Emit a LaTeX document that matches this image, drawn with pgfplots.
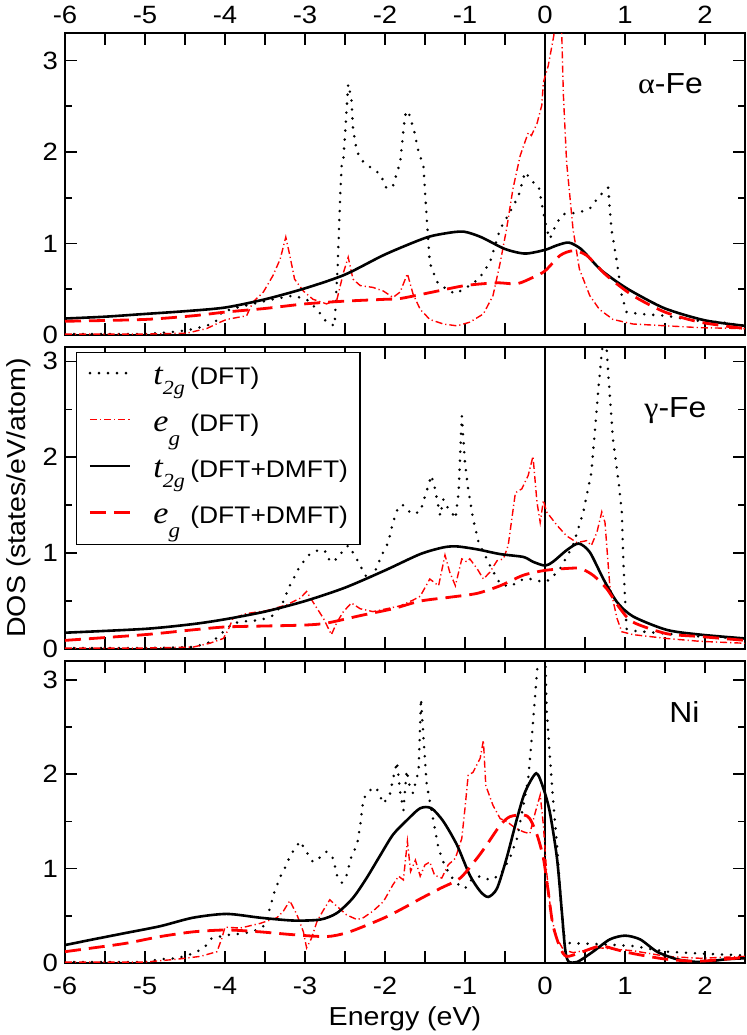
\documentclass[border=0pt]{standalone}
\usepackage{pgfplots}
\pgfplotsset{compat=1.18}
\usepackage{fontspec}
\setmainfont{Liberation Sans}[FakeStretch=1.1]
\newfontfamily\serifit{Liberation Serif}[FakeStretch=1.1]
\newcommand\ticksize{\fontsize{12.5}{14}\selectfont}
\newcommand\legsize{\fontsize{12}{14}\selectfont}
\newcommand\labsize{\fontsize{13}{15}\selectfont}
\newcommand\pansize{\fontsize{14.5}{16}\selectfont}
\newcommand\tsym{{\serifit\itshape\fontsize{15.5}{15.5}\selectfont t}\raisebox{-5pt}{\serifit\itshape\fontsize{10}{10}\selectfont 2g}}
\newcommand\esym{{\serifit\itshape\fontsize{15.5}{15.5}\selectfont e}\raisebox{-7pt}{\serifit\itshape\fontsize{10.5}{10.5}\selectfont g}}
\pgfplotsset{
  panel/.style={
    scale only axis, width=340pt, height=151pt,
    xmin=-6, xmax=2.5, ymin=0,
    xtick={-6,-5,...,2},
    extra x ticks={-5.5,-4.5,...,2.5}, extra x tick labels={},
    ytick={0,1,2,3}, minor ytick={0.5,1.5,2.5},
    major tick length=6pt, minor tick length=3.5pt,
    tick style={line width=0.8pt, black},
    axis line style={line width=0.8pt},
    xtick pos=both, ytick pos=both,
    no markers,
    tick label style={font=\ticksize},
    /pgf/number format/assume math mode=true,
    legend image code/.code={\draw[##1] (0pt,3pt) -- (20pt,3pt);},
  },
  tdft/.style={black, line width=1.4pt, line cap=round, dash pattern=on 0pt off 4.5pt},
  edft/.style={red, line width=0.7pt, dash pattern=on 3.5pt off 1.5pt on 0.6pt off 1.5pt},
  tdmft/.style={black, line width=1.3pt, smooth, tension=0.45},
  edmft/.style={red, line width=1.4pt, dash pattern=on 8pt off 4pt, smooth, tension=0.45},
  zline/.style={black, line width=0.6pt, forget plot},
}
\begin{document}
\begin{tikzpicture}
% ---------------- alpha-Fe
\begin{axis}[panel, at={(0,0)}, anchor=north west, ymax=3.3,
  xticklabel pos=upper, xtick pos=both,
  xticklabel style={yshift=1pt}]
\addplot[zline] coordinates {(0,0) (0,3.5)};
\addplot[tdft] coordinates {(-6,0.01) (-5.5,0.01) (-5.0,0.01) (-4.69,0.03) (-4.48,0.05) (-4.23,0.10) (-4.10,0.16) (-4.04,0.25) (-3.85,0.30) (-3.65,0.34) (-3.40,0.39) (-3.15,0.43) (-2.98,0.39) (-2.85,0.28) (-2.73,0.14) (-2.63,0.10) (-2.59,0.79) (-2.56,1.52) (-2.54,1.89) (-2.52,1.92) (-2.49,2.32) (-2.46,2.74) (-2.42,2.58) (-2.40,2.25) (-2.35,2.00) (-2.27,1.89) (-2.15,1.81) (-2.06,1.76) (-1.98,1.60) (-1.90,1.63) (-1.81,1.89) (-1.75,2.40) (-1.71,2.45) (-1.63,2.21) (-1.58,2.00) (-1.52,1.85) (-1.48,1.30) (-1.44,0.79) (-1.35,0.58) (-1.23,0.50) (-1.12,0.45) (-0.98,0.52) (-0.83,0.61) (-0.69,0.79) (-0.56,1.16) (-0.44,1.34) (-0.33,1.52) (-0.25,1.78) (-0.15,1.67) (-0.08,1.63) (-0.02,1.34) (0.02,1.16) (0.06,1.05) (0.15,1.23) (0.23,1.32) (0.43,1.34) (0.56,1.38) (0.68,1.52) (0.79,1.61) (0.83,1.16) (0.90,0.79) (0.96,0.43) (1.02,0.25) (1.19,0.23) (1.52,0.21) (1.85,0.16) (2.19,0.14) (2.5,0.10)};
\addplot[edft] coordinates {(-6,0.01) (-5,0.01) (-4.48,0.02) (-4.23,0.07) (-4.06,0.14) (-3.98,0.17) (-3.73,0.21) (-3.65,0.36) (-3.52,0.47) (-3.40,0.65) (-3.31,0.83) (-3.24,1.07) (-3.19,0.87) (-3.13,0.61) (-3.02,0.48) (-2.90,0.39) (-2.73,0.34) (-2.60,0.39) (-2.52,0.68) (-2.46,0.85) (-2.40,0.61) (-2.31,0.54) (-2.15,0.52) (-2.02,0.48) (-1.90,0.41) (-1.81,0.47) (-1.72,0.67) (-1.65,0.45) (-1.56,0.28) (-1.44,0.17) (-1.27,0.12) (-1.10,0.10) (-0.94,0.14) (-0.77,0.23) (-0.65,0.43) (-0.56,0.79) (-0.48,1.16) (-0.40,1.60) (-0.31,1.96) (-0.21,2.21) (-0.17,2.18) (-0.10,2.31) (-0.04,2.51) (-0.02,2.76) (0.04,2.94) (0.11,3.27) (0.15,3.6) (0.20,3.6) (0.23,2.62) (0.27,1.89) (0.35,1.16) (0.43,0.72) (0.56,0.43) (0.68,0.28) (0.85,0.17) (1.10,0.12) (1.52,0.10) (1.94,0.08) (2.5,0.07)};
\addplot[tdmft] coordinates {(-6,0.18) (-5.5,0.20) (-5.0,0.23) (-4.5,0.26) (-4.0,0.30) (-3.5,0.39) (-3.0,0.51) (-2.5,0.66) (-2.0,0.88) (-1.5,1.06) (-1.25,1.11) (-1.02,1.13) (-0.8,1.07) (-0.5,0.94) (-0.25,0.89) (0,0.93) (0.15,0.98) (0.3,1.01) (0.45,0.94) (0.6,0.80) (0.7,0.71) (0.9,0.58) (1.1,0.47) (1.5,0.29) (2.0,0.16) (2.5,0.10)};
\addplot[edmft] coordinates {(-6,0.15) (-5,0.17) (-4.4,0.21) (-4.0,0.25) (-3.5,0.29) (-3.0,0.34) (-2.5,0.37) (-2.0,0.39) (-1.8,0.40) (-1.4,0.47) (-1.0,0.54) (-0.6,0.57) (-0.35,0.56) (-0.15,0.63) (0,0.70) (0.19,0.87) (0.35,0.92) (0.52,0.87) (0.77,0.65) (1.1,0.43) (1.5,0.25) (1.94,0.14) (2.5,0.07)};
\node[anchor=base, font=\pansize] at (axis description cs:0.8904,0.7987) {{\serifit α}-Fe};
\end{axis}
% ---------------- gamma-Fe
\begin{axis}[panel, at={(0,-157pt)}, anchor=north west, ymax=3.15,
  xticklabels={},
  ylabel={DOS (states/eV/atom)},
  ylabel style={at={(axis description cs:-0.068,0.5)}, anchor=center, font=\labsize},
  legend cell align=left,
  legend style={at={(axis description cs:0,1)}, anchor=north west, xshift=5.5pt, yshift=-2.5pt,
    draw=black, line width=0.6pt, font=\legsize, inner xsep=6pt, inner ysep=6.5pt,
    row sep=9.7pt, column sep=11pt,
    nodes={inner sep=0pt, text height=9.5pt, text depth=4pt}}]
\addplot[zline] coordinates {(0,0) (0,3.5)};
\addplot[tdft] coordinates {(-6,0.01) (-5,0.01) (-4.4,0.02) (-4.31,0.04) (-4.15,0.08) (-4.02,0.18) (-3.9,0.27) (-3.73,0.29) (-3.56,0.30) (-3.4,0.35) (-3.29,0.46) (-3.19,0.66) (-3.06,0.87) (-2.94,0.99) (-2.81,1.04) (-2.73,1.01) (-2.69,0.91) (-2.6,0.94) (-2.52,1.03) (-2.46,1.08) (-2.38,0.98) (-2.29,0.84) (-2.21,0.72) (-2.13,0.80) (-2.04,0.98) (-1.96,1.11) (-1.9,1.32) (-1.83,1.49) (-1.77,1.50) (-1.67,1.41) (-1.56,1.43) (-1.46,1.70) (-1.42,1.81) (-1.38,1.69) (-1.31,1.39) (-1.27,1.56) (-1.23,1.49) (-1.17,1.43) (-1.12,1.36) (-1.08,1.63) (-1.04,2.43) (-1.0,1.94) (-0.96,1.67) (-0.9,1.36) (-0.83,1.11) (-0.75,0.98) (-0.67,0.84) (-0.56,0.68) (-0.44,0.65) (-0.27,0.73) (-0.15,0.73) (-0.04,0.70) (0.06,0.72) (0.19,0.84) (0.35,1.08) (0.48,1.43) (0.58,1.84) (0.67,2.74) (0.71,3.09) (0.75,3.4) (0.79,2.88) (0.85,2.19) (0.92,1.74) (0.96,1.43) (0.98,0.91) (1.0,0.53) (1.02,0.21) (1.1,0.19) (1.52,0.16) (1.94,0.13) (2.5,0.11)};
\addlegendentry{\makebox[18.5pt][l]{\tsym}(DFT)}
\addplot[edft] coordinates {(-6,0.01) (-5,0.01) (-4.4,0.02) (-4.19,0.06) (-4.02,0.11) (-3.96,0.20) (-3.9,0.32) (-3.73,0.37) (-3.48,0.40) (-3.23,0.46) (-3.06,0.53) (-2.98,0.60) (-2.9,0.49) (-2.77,0.32) (-2.67,0.15) (-2.6,0.28) (-2.52,0.39) (-2.42,0.48) (-2.31,0.42) (-2.15,0.39) (-1.98,0.42) (-1.81,0.45) (-1.65,0.51) (-1.56,0.55) (-1.44,0.73) (-1.33,0.66) (-1.25,0.98) (-1.19,0.80) (-1.12,0.66) (-1.04,0.94) (-0.98,0.91) (-0.94,0.94) (-0.85,0.84) (-0.77,0.73) (-0.69,0.80) (-0.6,0.92) (-0.52,0.94) (-0.46,1.08) (-0.37,1.63) (-0.29,1.67) (-0.21,1.81) (-0.15,2.01) (-0.1,1.53) (-0.06,1.32) (-0.02,1.55) (0.02,1.43) (0.15,1.29) (0.27,1.18) (0.4,1.11) (0.52,1.13) (0.58,1.08) (0.65,1.22) (0.71,1.43) (0.75,1.32) (0.81,0.66) (0.9,0.32) (0.96,0.18) (1.1,0.15) (1.52,0.11) (1.94,0.08) (2.5,0.06)};
\addlegendentry{\makebox[18.5pt][l]{\esym}(DFT)}
\addplot[tdmft] coordinates {(-6,0.17) (-5,0.21) (-4.4,0.26) (-4.0,0.31) (-3.5,0.39) (-3.0,0.50) (-2.5,0.64) (-2.0,0.82) (-1.56,0.99) (-1.27,1.06) (-1.1,1.07) (-0.85,1.04) (-0.56,0.99) (-0.27,0.96) (-0.15,0.91) (0,0.87) (0.1,0.91) (0.27,1.03) (0.42,1.10) (0.56,1.01) (0.73,0.73) (0.9,0.49) (1.1,0.34) (1.52,0.20) (1.94,0.15) (2.5,0.11)};
\addlegendentry{\makebox[18.5pt][l]{\tsym}(DFT+DMFT)}
\addplot[edmft] coordinates {(-6,0.09) (-5,0.15) (-4.4,0.20) (-4.0,0.23) (-3.5,0.24) (-3.0,0.25) (-2.73,0.27) (-2.3,0.35) (-1.9,0.42) (-1.56,0.50) (-1.19,0.54) (-0.85,0.58) (-0.56,0.66) (-0.27,0.77) (0,0.82) (0.27,0.84) (0.44,0.84) (0.6,0.77) (0.77,0.63) (0.94,0.42) (1.1,0.28) (1.52,0.16) (1.94,0.13) (2.5,0.09)};
\addlegendentry{\makebox[18.5pt][l]{\esym}(DFT+DMFT)}
\node[anchor=base, font=\pansize] at (axis description cs:0.8977,0.768) {{\serifit γ}-Fe};
\end{axis}
% ---------------- Ni
\begin{axis}[panel, at={(0,-314pt)}, anchor=north west, ymax=3.2,
  xticklabel style={yshift=-3.5pt},
  xlabel={Energy (eV)},
  xlabel style={at={(axis description cs:0.5,-0.2053)}, anchor=base, font=\labsize}]
\addplot[zline] coordinates {(0,0) (0,3.5)};
\addplot[tdft] coordinates {(-6,0.01) (-5,0.01) (-4.81,0.04) (-4.6,0.05) (-4.44,0.09) (-4.33,0.13) (-4.23,0.19) (-4.17,0.26) (-4.06,0.28) (-3.94,0.30) (-3.81,0.31) (-3.73,0.32) (-3.6,0.35) (-3.5,0.40) (-3.44,0.58) (-3.38,0.76) (-3.29,0.95) (-3.23,1.04) (-3.19,1.13) (-3.13,1.21) (-3.06,1.29) (-3.0,1.20) (-2.9,1.07) (-2.81,1.12) (-2.73,1.18) (-2.65,1.11) (-2.6,0.93) (-2.54,0.85) (-2.48,0.93) (-2.42,1.13) (-2.35,1.25) (-2.31,1.46) (-2.27,1.74) (-2.19,1.83) (-2.11,1.86) (-2.02,1.69) (-1.94,1.78) (-1.9,1.95) (-1.85,2.13) (-1.81,1.81) (-1.77,1.62) (-1.73,2.04) (-1.69,1.87) (-1.65,1.80) (-1.58,2.04) (-1.55,2.80) (-1.52,2.40) (-1.48,1.90) (-1.4,1.53) (-1.33,1.21) (-1.27,1.07) (-1.19,0.93) (-1.08,0.83) (-1.0,0.79) (-0.92,0.88) (-0.81,0.92) (-0.69,0.88) (-0.56,0.93) (-0.44,1.11) (-0.35,1.32) (-0.27,1.67) (-0.21,1.95) (-0.17,2.34) (-0.12,2.87) (-0.08,3.3) (-0.04,3.6) (0.0,3.4) (0.02,2.69) (0.06,2.20) (0.1,1.74) (0.15,1.25) (0.19,0.76) (0.23,0.30) (0.31,0.21) (0.69,0.20) (1.1,0.18) (1.52,0.12) (1.94,0.10) (2.5,0.08)};
\addplot[edft] coordinates {(-6,0.01) (-5,0.01) (-4.6,0.04) (-4.31,0.07) (-4.1,0.12) (-4.04,0.26) (-4.0,0.38) (-3.81,0.37) (-3.56,0.42) (-3.35,0.48) (-3.27,0.55) (-3.19,0.66) (-3.1,0.51) (-3.02,0.33) (-2.98,0.16) (-2.92,0.26) (-2.85,0.44) (-2.77,0.56) (-2.69,0.67) (-2.6,0.60) (-2.48,0.51) (-2.35,0.46) (-2.27,0.48) (-2.15,0.55) (-2.02,0.65) (-1.9,0.83) (-1.83,0.92) (-1.77,0.88) (-1.72,1.29) (-1.68,0.97) (-1.62,1.09) (-1.56,0.92) (-1.5,1.04) (-1.44,1.07) (-1.38,0.93) (-1.29,0.90) (-1.21,1.04) (-1.12,1.11) (-1.04,1.32) (-1.0,1.64) (-0.96,1.99) (-0.9,2.02) (-0.81,2.17) (-0.77,2.36) (-0.74,1.88) (-0.71,1.81) (-0.65,1.67) (-0.56,1.53) (-0.48,1.50) (-0.37,1.43) (-0.27,1.39) (-0.19,1.37) (-0.12,1.60) (-0.06,1.78) (-0.02,1.46) (0.02,0.97) (0.08,0.48) (0.15,0.26) (0.23,0.14) (0.35,0.11) (0.69,0.16) (1.1,0.13) (1.52,0.07) (1.94,0.05) (2.5,0.07)};
\addplot[tdmft] coordinates {(-6,0.19) (-5.65,0.25) (-5.23,0.32) (-4.81,0.39) (-4.4,0.48) (-3.98,0.52) (-3.56,0.48) (-3.15,0.45) (-2.81,0.46) (-2.6,0.53) (-2.4,0.69) (-2.23,0.90) (-2.06,1.14) (-1.9,1.36) (-1.73,1.51) (-1.56,1.64) (-1.42,1.64) (-1.27,1.50) (-1.1,1.25) (-0.94,0.93) (-0.81,0.76) (-0.71,0.70) (-0.6,0.79) (-0.48,1.11) (-0.35,1.53) (-0.25,1.81) (-0.11,2.01) (-0.02,1.85) (0.06,1.60) (0.15,1.11) (0.21,0.55) (0.25,0.16) (0.29,0.02) (0.4,0.01) (0.6,0.12) (0.81,0.25) (1.0,0.29) (1.19,0.25) (1.4,0.12) (1.65,0.04) (1.94,0.01) (2.27,0.04) (2.5,0.05)};
\addplot[edmft] coordinates {(-6,0.12) (-5.65,0.16) (-5.23,0.21) (-4.81,0.28) (-4.4,0.33) (-3.98,0.35) (-3.56,0.33) (-3.15,0.30) (-2.73,0.28) (-2.48,0.32) (-2.23,0.40) (-1.98,0.49) (-1.73,0.60) (-1.56,0.68) (-1.31,0.79) (-1.06,0.90) (-0.85,1.11) (-0.73,1.25) (-0.56,1.46) (-0.44,1.55) (-0.27,1.57) (-0.19,1.53) (-0.1,1.36) (-0.02,1.11) (0.04,0.76) (0.1,0.40) (0.19,0.16) (0.27,0.07) (0.44,0.11) (0.69,0.18) (0.9,0.14) (1.1,0.10) (1.52,0.04) (1.94,0.02) (2.5,0.06)};
\node[anchor=base, font=\pansize] at (axis description cs:0.9110,0.795) {Ni};
\end{axis}
\pgfresetboundingbox
\path[use as bounding box] (-32.5pt,16.5pt) rectangle (341pt,-501pt);
\end{tikzpicture}
\end{document}
